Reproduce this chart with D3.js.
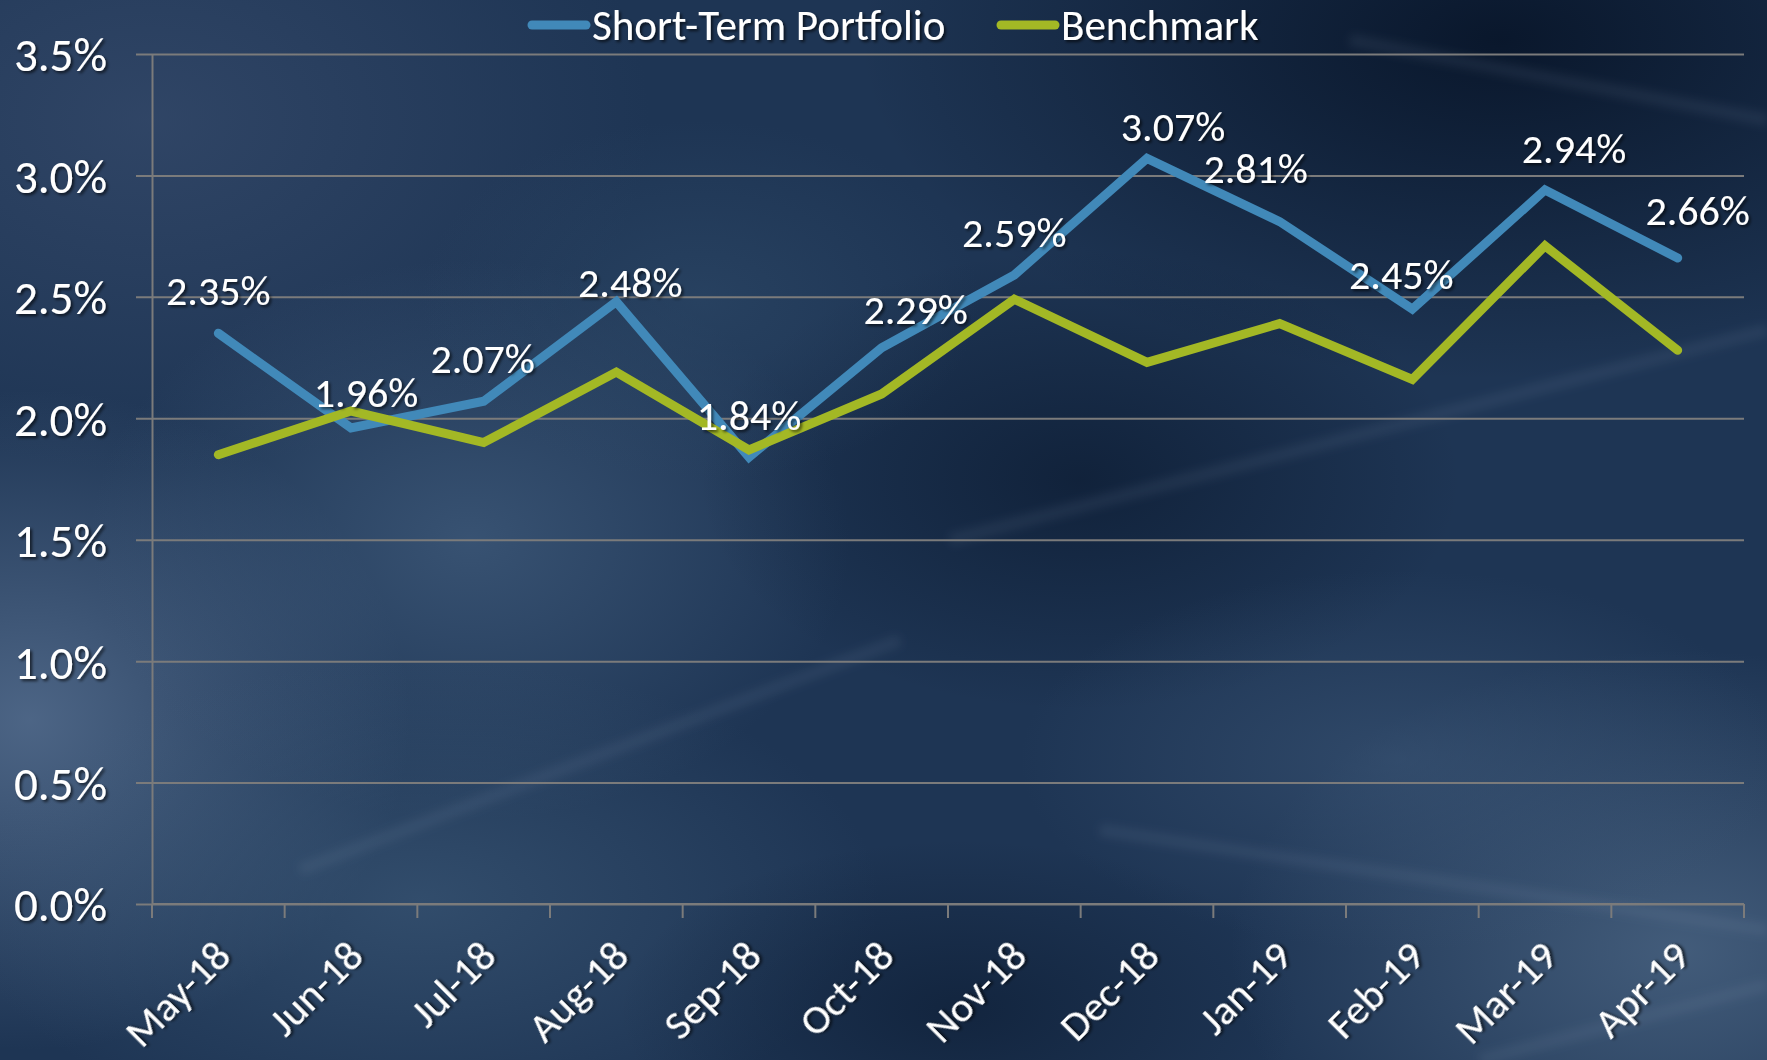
<!DOCTYPE html>
<html lang="en">
    <head>
        <meta charset="utf-8">
        <title>Short-Term Portfolio vs Benchmark</title>
        <script src="https://d3js.org/d3.v7.min.js"></script>
        <style>
            body { margin: 0; background: #1b3150; overflow: hidden; }
            text { font-family: Carlito, Lato, "Open Sans", sans-serif; fill: #ffffff; }
        </style>
    </head>
    <body>
        <script type="text/javascript">
            // data
            var months = ["May-18", "Jun-18", "Jul-18", "Aug-18", "Sep-18", "Oct-18",
                          "Nov-18", "Dec-18", "Jan-19", "Feb-19", "Mar-19", "Apr-19"];
            var portfolio = [2.35, 1.96, 2.07, 2.48, 1.84, 2.29, 2.59, 3.07, 2.81, 2.45, 2.94, 2.66];
            var benchmark = [1.85, 2.03, 1.90, 2.19, 1.87, 2.10, 2.49, 2.23, 2.39, 2.16, 2.71, 2.28];
            var yTicks = [0, 0.5, 1.0, 1.5, 2.0, 2.5, 3.0, 3.5];
            var seriesNames = ["Short-Term Portfolio", "Benchmark"];

            // hand-placed label nudges (px) like the original
            var labelNudge = [[0, -43], [15, -36], [-1, -43], [14, -20], [0, -42], [34, -39],
                              [0, -43], [26, -33], [-24, -54], [-11, -35], [29, -42], [20, -48]];

            var width = 1767, height = 1060;
            var margin = {top: 54, right: 23, bottom: 156, left: 152};
            var colors = {"Short-Term Portfolio": "#4189b9", "Benchmark": "#a3b825"};

            var svg = d3.select("body").append("svg")
                .attr("width", width)
                .attr("height", height);

            var defs = svg.append("defs");

            var shadow = defs.append("filter").attr("id", "shadow")
                .attr("x", "-20%").attr("y", "-20%").attr("width", "140%").attr("height", "140%");
            shadow.append("feDropShadow")
                .attr("dx", 2).attr("dy", 2).attr("stdDeviation", 1.5)
                .attr("flood-color", "#000").attr("flood-opacity", 0.65);

            var soft = defs.append("filter").attr("id", "soft")
                .attr("x", "-50%").attr("y", "-50%").attr("width", "200%").attr("height", "200%");
            soft.append("feGaussianBlur").attr("stdDeviation", 5);

            // background: navy base with soft light / dark patches
            svg.append("rect").attr("width", width).attr("height", height).attr("fill", "#1e3554");

            var blobs = [
                {cx: 150, cy: 120, rx: 500, ry: 350, c: "#34496a", o: 0.8},
                {cx: 30, cy: 720, rx: 380, ry: 330, c: "#5c7596", o: 0.75},
                {cx: 470, cy: 540, rx: 380, ry: 280, c: "#4d6a8b", o: 0.55},
                {cx: 420, cy: 900, rx: 460, ry: 240, c: "#42607f", o: 0.55},
                {cx: 1500, cy: 40, rx: 640, ry: 340, c: "#061225", o: 0.85},
                {cx: 1080, cy: 480, rx: 380, ry: 230, c: "#0b1a30", o: 0.7},
                {cx: 960, cy: 1010, rx: 340, ry: 170, c: "#0c1c33", o: 0.65},
                {cx: 1680, cy: 950, rx: 450, ry: 300, c: "#5b7694", o: 0.6},
                {cx: 1400, cy: 760, rx: 380, ry: 190, c: "#3f5a7b", o: 0.55},
                {cx: 700, cy: 300, rx: 280, ry: 180, c: "#33506f", o: 0.45}
            ];

            blobs.forEach(function (b, i) {
                var g = defs.append("radialGradient").attr("id", "blob" + i);
                g.append("stop").attr("offset", "0%").attr("stop-color", b.c).attr("stop-opacity", b.o);
                g.append("stop").attr("offset", "100%").attr("stop-color", b.c).attr("stop-opacity", 0);
            });

            svg.append("g").selectAll("ellipse")
                .data(blobs)
                .enter()
                .append("ellipse")
                .attr("cx", function (d) { return d.cx; })
                .attr("cy", function (d) { return d.cy; })
                .attr("rx", function (d) { return d.rx; })
                .attr("ry", function (d) { return d.ry; })
                .attr("fill", function (d, i) { return "url(#blob" + i + ")"; });

            // faint soft streaks
            var streaks = [[1350, 40, 1767, 120], [950, 540, 1767, 330], [1100, 830, 1767, 930], [1480, 1060, 1767, 985], [300, 870, 900, 640]];
            svg.append("g").attr("filter", "url(#soft)").selectAll("line")
                .data(streaks)
                .enter()
                .append("line")
                .attr("x1", function (d) { return d[0]; })
                .attr("y1", function (d) { return d[1]; })
                .attr("x2", function (d) { return d[2]; })
                .attr("y2", function (d) { return d[3]; })
                .attr("stroke", "#8fa8c4")
                .attr("stroke-opacity", 0.1)
                .attr("stroke-width", 12);

            var x = d3.scaleBand()
                .domain(months)
                .range([margin.left, width - margin.right]);

            var y = d3.scaleLinear()
                .domain([0, 3.5])
                .range([height - margin.bottom, margin.top]);

            var plotW = width - margin.right - margin.left;
            var gridColor = "#7b7b7b";

            // y axis with gridlines
            var yAxis = svg.append("g")
                .attr("transform", "translate(" + margin.left + ",0)")
                .call(d3.axisLeft(y)
                    .tickValues(yTicks)
                    .tickSizeInner(-plotW)
                    .tickSizeOuter(0)
                    .tickPadding(45)
                    .tickFormat(function (d) { return d.toFixed(1) + "%"; }));
            yAxis.select(".domain").attr("stroke", gridColor).attr("stroke-width", 2);
            yAxis.selectAll(".tick line")
                .attr("x1", -16)
                .attr("stroke", gridColor)
                .attr("stroke-width", 2);
            yAxis.selectAll(".tick text")
                .attr("font-size", 47)
                .attr("font-family", null)
                .attr("fill", "#fff")
                .attr("dy", "0.36em")
                .attr("filter", "url(#shadow)");

            // x axis: ticks between categories, rotated labels
            var xAxisY = y(0);
            var xAxis = svg.append("g").attr("transform", "translate(0," + xAxisY + ")");
            xAxis.append("line")
                .attr("x1", margin.left).attr("x2", width - margin.right)
                .attr("stroke", gridColor).attr("stroke-width", 2);
            xAxis.selectAll(".xtick")
                .data(months.concat(["end"]))
                .enter()
                .append("line")
                .attr("class", "xtick")
                .attr("x1", function (d, i) { return margin.left + i * x.bandwidth(); })
                .attr("x2", function (d, i) { return margin.left + i * x.bandwidth(); })
                .attr("y1", 0).attr("y2", 14)
                .attr("stroke", gridColor).attr("stroke-width", 2);
            xAxis.selectAll(".xlabel")
                .data(months)
                .enter()
                .append("text")
                .attr("class", "xlabel")
                .attr("font-size", 42)
                .attr("text-anchor", "end")
                .attr("filter", "url(#shadow)")
                .attr("transform", function (d) {
                    return "translate(" + (x(d) + x.bandwidth() / 2 - 6) + ",34) rotate(-45)";
                })
                .attr("dy", "0.7em")
                .text(function (d) { return d; });

            // lines
            var series = [
                {name: seriesNames[0], values: portfolio},
                {name: seriesNames[1], values: benchmark}
            ];

            var line = d3.line()
                .x(function (d, i) { return x(months[i]) + x.bandwidth() / 2; })
                .y(function (d) { return y(d); });

            svg.append("g").selectAll("path")
                .data(series)
                .enter()
                .append("path")
                .attr("d", function (d) { return line(d.values); })
                .attr("fill", "none")
                .attr("stroke", function (d) { return colors[d.name]; })
                .attr("stroke-width", 9)
                .attr("stroke-linejoin", "miter")
                .attr("stroke-linecap", "round");

            // data labels for the portfolio
            svg.append("g").selectAll("text")
                .data(portfolio)
                .enter()
                .append("text")
                .attr("font-size", 42)
                .attr("text-anchor", "middle")
                .attr("filter", "url(#shadow)")
                .attr("x", function (d, i) { return x(months[i]) + x.bandwidth() / 2 + labelNudge[i][0]; })
                .attr("y", function (d, i) { return y(d) + labelNudge[i][1]; })
                .attr("dy", "0.36em")
                .text(function (d) { return d.toFixed(2) + "%"; });

            // legend
            var legendPos = [532, 1001];
            var legend = svg.append("g").selectAll("g")
                .data(seriesNames)
                .enter()
                .append("g")
                .attr("transform", function (d, i) { return "translate(" + legendPos[i] + ",25)"; });
            legend.append("line")
                .attr("x1", 0).attr("x2", 54)
                .attr("stroke", function (d) { return colors[d]; })
                .attr("stroke-width", 9)
                .attr("stroke-linecap", "round");
            legend.append("text")
                .attr("x", 60)
                .attr("dy", "0.36em")
                .attr("font-size", 43)
                .attr("filter", "url(#shadow)")
                .text(function (d) { return d; });
        </script>
    </body>
</html>
